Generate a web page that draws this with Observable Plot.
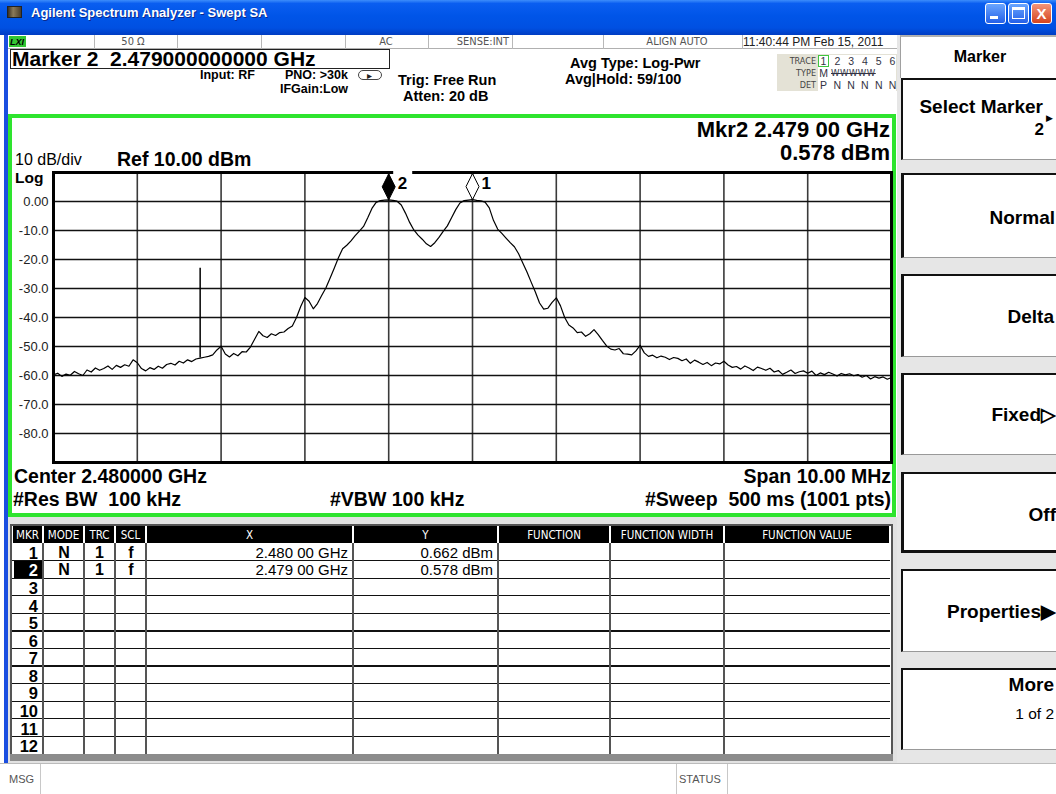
<!DOCTYPE html>
<html><head><meta charset="utf-8">
<script src="https://cdn.jsdelivr.net/npm/d3@7"></script>
<script src="https://cdn.jsdelivr.net/npm/@observablehq/plot@0.6"></script>
<style>
html,body{margin:0;padding:0;background:#fff;}
#screen{position:relative;width:1056px;height:794px;overflow:hidden;background:#fff;font-family:"Liberation Sans",Arial,sans-serif;}
.a{position:absolute;box-sizing:border-box;}
.t{position:absolute;white-space:pre;height:30px;}
</style></head><body><div id="screen"></div>
<script>
// ---------------- DATA ----------------
const titleText = "Agilent Spectrum Analyzer - Swept SA";
const statusTexts = ["50 Ω", "AC", "SENSE:INT", "ALIGN AUTO", "11:40:44 PM Feb 15, 2011"];
const markerReadout = "Marker 2  2.479000000000 GHz";
const settingTexts = ["Input: RF", "PNO: >30k", "IFGain:Low", "Trig: Free Run", "Atten: 20 dB", "Avg Type: Log-Pwr", "Avg|Hold: 59/100"];
const traceNumbers = ["1", "2", "3", "4", "5", "6"];
const traceDetectors = ["P", "N", "N", "N", "N", "N"];
const scaleTexts = ["10 dB/div", "Ref 10.00 dBm", "Log"];
const activeMarkerTexts = ["Mkr2 2.479 00 GHz", "0.578 dBm"];
const footerTexts = ["Center 2.480000 GHz", "#Res BW  100 kHz", "#VBW 100 kHz", "Span 10.00 MHz", "#Sweep  500 ms (1001 pts)"];

// Sweep: 2.475 GHz .. 2.485 GHz (center 2.480 GHz, span 10 MHz), trace read every 0.05 MHz
const sweepStartGHz = 2.475;
const sweepStopGHz = 2.485;
const traceDbm = [
  -59.8, -59.2, -60.3, -59.5, -59.9, -58.6, -59.4, -60.0, -58.1, -58.8,
  -57.4, -58.2, -57.6, -56.7, -57.9, -56.5, -57.2, -56.3, -56.8, -54.6,
  -55.6, -57.6, -58.4, -57.3, -57.9, -56.8, -57.5, -56.2, -55.8, -56.4,
  -55.1, -55.7, -54.6, -55.2, -54.3, -54.0,
  -53.7, -53.4, -52.9, -51.2, -49.9,
  -52.6, -53.6, -52.4, -53.2, -51.8, -51.9, -50.2, -47.5, -44.8, -46.3,
  -46.9, -45.6, -46.2, -45.2, -45.0, -43.8, -42.9, -40.0, -36.2, -33.1,
  -34.4, -37.0, -35.2, -32.4, -29.8, -26.5, -23.0, -19.4, -16.3, -15.1,
  -13.6, -11.8, -10.2, -8.6, -5.6, -2.4, -0.3, 0.3, 0.5, 0.58,
  0.4, 0.1, -1.2, -4.0, -7.2, -9.8, -11.6, -13.0, -14.6, -15.5,
  -14.2, -12.4, -10.3, -8.4, -5.6, -2.8, -0.5, 0.3, 0.5, 0.66,
  0.4, 0.2, -0.2, -2.2, -6.5, -9.5, -11.0, -12.6, -14.2, -15.6,
  -18.0, -21.2, -24.3, -27.8, -31.2, -35.0, -37.1, -36.8, -34.8, -33.2,
  -36.0, -40.0, -42.6, -43.6, -45.2, -45.0, -46.5, -45.6, -44.2, -45.9,
  -47.9, -49.8, -50.9, -51.2, -50.7, -52.5, -52.6, -52.9, -51.5, -49.6,
  -52.2, -53.4, -53.0, -53.9, -53.3, -53.7, -54.5, -53.8, -54.1, -54.9,
  -54.3, -55.8, -54.7, -55.4, -56.2, -55.5, -56.6, -55.7, -56.0, -55.1,
  -56.4, -57.2, -56.9, -57.8, -56.7, -57.4, -58.3, -57.1, -57.6, -58.2,
  -57.5, -58.8, -58.3, -59.6, -58.9, -58.1, -59.3, -58.7, -58.4, -59.2,
  -58.5, -60.0, -59.1, -59.7, -58.9, -59.5, -60.2, -59.3, -59.8, -59.4,
  -60.1, -59.7, -60.6, -60.0, -61.2, -60.4, -60.9, -60.5, -61.3, -60.7
];
// narrow spur
const spurFreqGHz = [2.47675];
const spurFloorDbm = [-54.0];
const spurPeakDbm = [-23.0];

const gridFreqsGHz = [2.476, 2.477, 2.478, 2.479, 2.480, 2.481, 2.482, 2.483, 2.484];
const gridLevelsDbm = [0, -10, -20, -30, -40, -50, -60, -70, -80];
const yTickLabels = ["0.00", "-10.0", "-20.0", "-30.0", "-40.0", "-50.0", "-60.0", "-70.0", "-80.0"];
const refLevelDbm = 10;
const bottomLevelDbm = -90;

const markerIds = [1, 2];
const markerFreqsGHz = [2.480, 2.479];
const markerLevelsDbm = [0.662, 0.578];
const activeMarkerId = 2;

const tableHeaders = ["MKR", "MODE", "TRC", "SCL", "X", "Y", "FUNCTION", "FUNCTION WIDTH", "FUNCTION VALUE"];
const tableMarkerNums = ["1", "2", "3", "4", "5", "6", "7", "8", "9", "10", "11", "12"];
const tableModes = ["N", "N"];
const tableTraces = ["1", "1"];
const tableScales = ["f", "f"];
const tableX = ["2.480 00 GHz", "2.479 00 GHz"];
const tableY = ["0.662 dBm", "0.578 dBm"];

const softkeyTitle = "Marker";
const softkeyLabels = ["Select Marker", "Normal", "Delta", "Fixed▷", "Off", "Properties▶", "More"];
const softkeySubLabels = ["2", "", "", "", "", "", "1 of 2"];
const bottomTexts = ["MSG", "STATUS"];

// ---------------- HELPERS ----------------
const W = 1056;
const SANS = '"Liberation Sans", Arial, sans-serif';
const NARROW = '"DejaVu Sans Condensed", "Liberation Sans Narrow", sans-serif';
const screen = document.getElementById("screen");
function box(x, y, w, h, css = "") {
  const d = document.createElement("div");
  d.className = "a";
  d.style.cssText = `left:${x}px;top:${y}px;width:${w}px;height:${h}px;${css}`;
  screen.appendChild(d);
  return d;
}
function txt(s, x, y, o = {}) {
  const {anchor = "start", size = 14, weight = "normal", family = SANS, color = "#000", css = ""} = o;
  const d = document.createElement("div");
  d.className = "t";
  d.textContent = s;
  let pos = `top:${y - 15}px;`;
  if (anchor === "start") pos += `left:${x}px;`;
  else if (anchor === "end") pos += `right:${W - x}px;`;
  else pos += `left:${x - 300}px;width:600px;text-align:center;`;
  d.style.cssText = pos + `font:${weight} ${size}px ${family};line-height:30px;color:${color};${css}`;
  screen.appendChild(d);
  return d;
}

// ---------------- WINDOW TITLE BAR ----------------
box(0, 0, W, 35, "background:linear-gradient(#3d8dfb 0%,#0a5ef0 10%,#0055e8 45%,#0050e2 80%,#003cc2 100%);");
box(7, 6, 15, 12, "background:linear-gradient(90deg,#3a3024,#8a7a5a 40%,#4a3e2c);border:1px solid #222;");
txt(titleText, 31, 13, {size: 13, weight: "bold", color: "#fff", css: "text-shadow:1px 1px 0 #0b2a8c;"});
box(985, 3, 21, 21, "background:linear-gradient(#6aa6ff,#2460e8);border:1px solid #fff;border-radius:3px;");
box(990, 16, 8, 3, "background:#fff;");
box(1008, 3, 21, 21, "background:linear-gradient(#6aa6ff,#2460e8);border:1px solid #fff;border-radius:3px;");
box(1012, 7, 13, 12, "border:1px solid #fff;border-top:3px solid #fff;");
box(1031, 3, 21, 21, "background:linear-gradient(#f3957a,#d5441d);border:1px solid #fff;border-radius:3px;");
txt("X", 1041.5, 13.5, {anchor: "middle", size: 15, weight: "bold", color: "#fff"});

// left window frame
box(4, 35, 4, 728, "background:#1a4ee0;");

// ---------------- STATUS ROW ----------------
box(8, 35, 889, 14, "background:#fff;border-bottom:1px solid #b0b0b0;");
[94, 177, 261, 345, 428, 512, 603, 742].forEach(x => box(x, 35, 1, 14, "background:#b8b8b8;"));
box(9, 36, 17, 11, "background:#33c633;");
txt("LXI", 10, 41.5, {size: 9, weight: "bold", css: "font-style:italic;"});
txt(statusTexts[0], 133, 41.5, {anchor: "middle", size: 11, family: NARROW, color: "#555"});
txt(statusTexts[1], 386, 41.5, {anchor: "middle", size: 11, family: NARROW, color: "#555"});
txt(statusTexts[2], 509, 41.5, {anchor: "end", size: 11, family: NARROW, color: "#555"});
txt(statusTexts[3], 677, 41.5, {anchor: "middle", size: 11, family: NARROW, color: "#555"});
txt(statusTexts[4], 743, 41.5, {size: 12, color: "#222"});

// ---------------- HEADER ----------------
box(10, 49, 380, 20, "border:1px solid #222;");
txt(markerReadout, 12, 59, {size: 21, weight: "bold"});
txt(settingTexts[0], 200, 75, {size: 12.5, weight: "bold"});
txt(settingTexts[1], 285, 75, {size: 12.5, weight: "bold"});
box(358, 70, 24, 10, "border:1.5px solid #444;border-radius:6px;");
txt("▸", 367, 76, {size: 10, color: "#222"});
txt(settingTexts[2], 280, 89, {size: 12.5, weight: "bold"});
txt(settingTexts[3], 398, 80, {size: 14.5, weight: "bold"});
txt(settingTexts[4], 403, 96, {size: 14.5, weight: "bold"});
txt(settingTexts[5], 570, 63, {size: 14.5, weight: "bold"});
txt(settingTexts[6], 565, 79, {size: 14.5, weight: "bold"});

// trace info box
box(777, 54, 120, 37, "background:#e4e2d6;");
box(818, 55, 78, 36, "background:#fff;");
txt("TRACE", 816, 61, {anchor: "end", size: 9, family: NARROW, color: "#444"});
txt("TYPE", 816, 73, {anchor: "end", size: 9, family: NARROW, color: "#444"});
txt("DET", 816, 85, {anchor: "end", size: 9, family: NARROW, color: "#444"});
box(818, 55, 11, 12, "border:1px solid #3fc53f;");
traceNumbers.forEach((s, i) => txt(s, 823.5 + i * 13.8, 61, {anchor: "middle", size: 10.5, color: "#334"}));
txt("M", 823.5, 73, {anchor: "middle", size: 10.5, color: "#334"});
txt("WWWWW", 831, 73, {size: 9.5, family: NARROW, color: "#334", css: "text-decoration:line-through;letter-spacing:0.5px;"});
traceDetectors.forEach((s, i) => txt(s, 823.5 + i * 13.8, 85, {anchor: "middle", size: 10.5, color: "#334"}));

// ---------------- TRACE WINDOW ----------------
box(8, 114, 888, 403, "border:4px solid #2ee42e;background:#fff;");
txt(activeMarkerTexts[0], 890, 130, {anchor: "end", size: 22, weight: "bold"});
txt(activeMarkerTexts[1], 890, 153, {anchor: "end", size: 22, weight: "bold"});
txt(scaleTexts[0], 15, 159.5, {size: 16});
txt(scaleTexts[1], 117, 158.5, {size: 19.5, weight: "bold"});
txt(scaleTexts[2], 15, 177.5, {size: 15.5, weight: "bold"});
txt(footerTexts[0], 14, 476, {size: 19.5, weight: "bold"});
txt(footerTexts[1], 13, 499, {size: 19.5, weight: "bold"});
txt(footerTexts[2], 330, 499, {size: 19.5, weight: "bold"});
txt(footerTexts[3], 891, 476, {anchor: "end", size: 19.5, weight: "bold"});
txt(footerTexts[4], 891, 499, {anchor: "end", size: 19.5, weight: "bold"});

const stepGHz = (sweepStopGHz - sweepStartGHz) / (traceDbm.length - 1);
const trace = traceDbm.map((p, i) => ({f: sweepStartGHz + i * stepGHz, p}));
const spurs = spurFreqGHz.map((f, i) => ({f, lo: spurFloorDbm[i], hi: spurPeakDbm[i]}));
const markers = markerIds.map((id, i) => ({id, f: markerFreqsGHz[i], level: markerLevelsDbm[i], top: refLevelDbm, active: id === activeMarkerId}));
const tickLabel = new Map(gridLevelsDbm.map((v, i) => [v, yTickLabels[i]]));
const tallDiamond = {
  draw(ctx) {
    const w = 6.5, h = 13;
    ctx.moveTo(0, -h); ctx.lineTo(w, 0); ctx.lineTo(0, h); ctx.lineTo(-w, 0); ctx.closePath();
  }
};

const chart = Plot.plot({
  width: 880, height: 394,
  marginLeft: 41, marginRight: 1, marginTop: 54, marginBottom: 50,
  x: {domain: [sweepStartGHz, sweepStopGHz], axis: null},
  y: {domain: [bottomLevelDbm, refLevelDbm], axis: null},
  style: {background: "transparent", fontFamily: SANS, fontSize: "13px", overflow: "visible"},
  marks: [
    Plot.ruleX(gridFreqsGHz, {stroke: "#3a3a3a", strokeWidth: 1.6}),
    Plot.ruleY(gridLevelsDbm, {stroke: "#111", strokeWidth: 1.4}),
    Plot.axisY(gridLevelsDbm, {anchor: "left", tickSize: 0, tickPadding: 5, fontSize: 13, color: "#222", label: null, tickFormat: d => tickLabel.get(d)}),
    Plot.frame({stroke: "#000", strokeWidth: 3}),
    Plot.line(trace, {x: "f", y: "p", stroke: "#000", strokeWidth: 1.2}),
    Plot.ruleX(spurs, {x: "f", y1: "lo", y2: "hi", stroke: "#000", strokeWidth: 1.5}),
    // white label background of the active marker, breaking the top border
    Plot.rect(markers.filter(d => d.active), {x1: "f", x2: "f", y1: "top", y2: "top", insetLeft: 5, insetRight: -24, insetTop: -3, insetBottom: -17, fill: "#fff"}),
    Plot.text(markers, {x: "f", y: "top", text: "id", dx: 9, dy: 11, textAnchor: "start", fontSize: 17, fontWeight: "bold", fill: "#000"}),
    Plot.dot(markers, {x: "f", y: "level", dy: -13, r: 5, symbol: tallDiamond, fill: d => d.active ? "#000" : "#fff", stroke: "#000", strokeWidth: 1})
  ]
});
chart.style.position = "absolute";
chart.style.left = "12px";
chart.style.top = "118px";
screen.appendChild(chart);

// ---------------- MARKER TABLE ----------------
box(8, 517, 889, 246, "background:#e2e2e2;");
box(10, 524, 883, 233, "background:#fff;border:2px solid #555;");
box(10, 754, 883, 7, "background:#8c8c8c;");
const colX = [12, 43, 84, 115, 146, 353, 498, 610, 724, 890];
tableHeaders.forEach((h, k) => {
  box(colX[k] + 1, 526, colX[k + 1] - colX[k] - 2, 17, "background:#000;");
  txt(h, (colX[k] + colX[k + 1]) / 2, 535, {anchor: "middle", size: 11.5, family: NARROW, color: "#fff"});
});
const rowTop = 543, rowH = (754 - 543) / 12;
box(14, rowTop + rowH, 29, rowH, "background:#000;");
for (let k = 1; k < 12; k++) box(12, rowTop + k * rowH - 0.6, 878, 1.2, "background:#111;");
colX.slice(1, -1).forEach(x => box(x - 0.75, rowTop, 1.5, 754 - rowTop, "background:#555;"));
tableMarkerNums.forEach((s, k) => txt(s, 38, rowTop + (k + 0.5) * rowH + 1, {anchor: "end", size: 16.5, weight: "bold", color: k === 1 ? "#fff" : "#000"}));
tableModes.forEach((s, k) => {
  const y = rowTop + (k + 0.5) * rowH + 1;
  txt(s, 64, y, {anchor: "middle", size: 16, weight: "bold"});
  txt(tableTraces[k], 99.5, y, {anchor: "middle", size: 16, weight: "bold"});
  txt(tableScales[k], 131, y, {anchor: "middle", size: 16, weight: "bold"});
  txt(tableX[k], 348, y, {anchor: "end", size: 15});
  txt(tableY[k], 493, y, {anchor: "end", size: 15});
});

// ---------------- MSG / STATUS BAR ----------------
box(0, 763, 900, 31, "background:#fff;border-top:1px solid #bbb;");
box(40, 764, 1, 30, "background:#c8c8c8;");
box(676, 764, 1, 30, "background:#c8c8c8;");
box(727, 764, 1, 30, "background:#c8c8c8;");
txt(bottomTexts[0], 9, 779, {size: 11, color: "#555"});
txt(bottomTexts[1], 679, 779, {size: 11, color: "#555"});

// ---------------- SOFTKEYS ----------------
box(897, 35, 159, 728, "background:#e6e6e6;");
box(900, 35, 156, 43, "background:#fff;border-left:1px solid #a0a0a0;border-top:2px solid #b0b0b0;");
txt(softkeyTitle, 980, 57, {anchor: "middle", size: 16, weight: "bold"});
const skTop = [78, 173, 274, 373, 472, 569, 668];
const skBot = [160, 258, 357, 455, 553, 652, 750];
softkeyLabels.forEach((s, i) => {
  const grp = i >= 1 && i <= 4;
  const bottom = i === 4 ? "3px solid #111" : "1px solid #999";
  box(901, skTop[i], 155, skBot[i] - skTop[i], `background:#fff;border-top:2px solid #111;border-left:${grp ? 3 : 2}px solid #111;border-bottom:${bottom};`);
});
box(897, 763, 159, 31, "background:#fff;border-top:1px solid #bbb;");
txt(softkeyLabels[0], 1043, 107, {anchor: "end", size: 19, weight: "bold"});
txt("▶", 1046, 118, {size: 9});
txt(softkeySubLabels[0], 1044, 130, {anchor: "end", size: 17, weight: "bold"});
txt(softkeyLabels[1], 1055, 218, {anchor: "end", size: 19, weight: "bold"});
txt(softkeyLabels[2], 1054, 317, {anchor: "end", size: 19, weight: "bold"});
txt(softkeyLabels[3], 1056, 415, {anchor: "end", size: 19, weight: "bold"});
txt(softkeyLabels[4], 1056, 515, {anchor: "end", size: 19, weight: "bold"});
txt(softkeyLabels[5], 1056, 612, {anchor: "end", size: 19, weight: "bold"});
txt(softkeyLabels[6], 1054, 685, {anchor: "end", size: 19, weight: "bold"});
txt(softkeySubLabels[6], 1054, 714, {anchor: "end", size: 15.5});
</script></body></html>
